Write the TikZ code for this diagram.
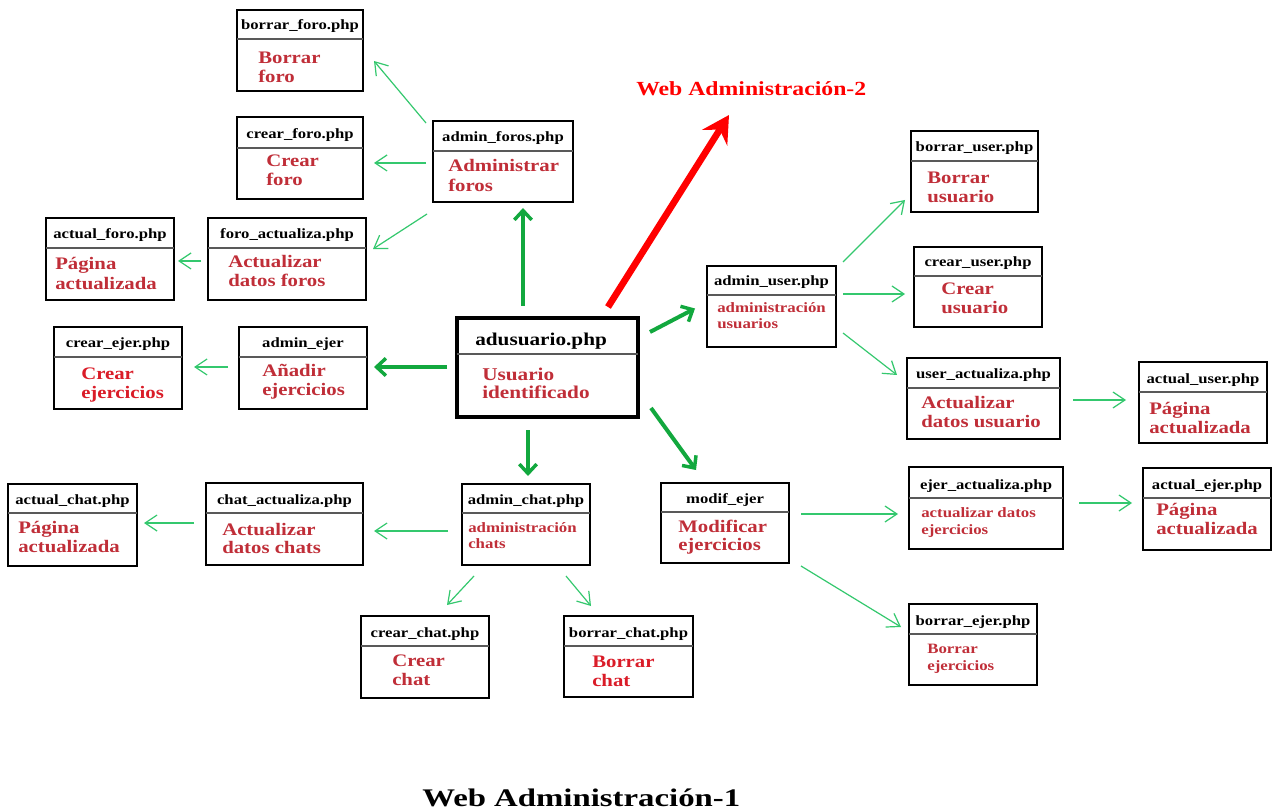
\documentclass[tikz,border=0pt]{standalone}
\usepackage{fontspec}
\setmainfont{Liberation Serif}
\usepackage{graphicx}
\usetikzlibrary{arrows.meta,fit}

\definecolor{bodyred}{RGB}{192,46,56}
\definecolor{brightred}{RGB}{218,28,40}
\definecolor{linkgreen}{RGB}{52,200,110}
\definecolor{maingreen}{RGB}{18,168,62}
\definecolor{titlered}{RGB}{255,0,0}

% horizontally widened lettering used throughout the boxes
\newcommand{\wide}[1]{\scalebox{1.18}[1]{#1}}

\tikzset{
  classframe/.style={draw=black, line width=2.2pt, inner sep=0pt, outer sep=0pt, fill=white},
  mainframe/.style={classframe, line width=3.6pt},
  divider/.style={draw=black!65, line width=0.8pt},
  hdr/.style={inner sep=0pt, text=black, font=\fontsize{10.6}{12}\selectfont\bfseries},
  mainhdr/.style={hdr, font=\fontsize{13.5}{16}\selectfont\bfseries},
  bodytxt/.style={inner sep=0pt, text=bodyred, font=\fontsize{13.2}{15}\selectfont\bfseries},
  brighttxt/.style={bodytxt, text=brightred},
  smalltxt/.style={inner sep=0pt, text=bodyred, font=\fontsize{10.7}{12}\selectfont\bfseries},
  maintxt/.style={bodytxt, font=\fontsize{13.5}{16}\selectfont\bfseries},
  link/.style={draw=linkgreen, line width=0.9pt,
    -{Straight Barb[length=9pt,width=12pt,line width=0.9pt]}},
  mainlink/.style={draw=maingreen, line width=3pt,
    -{Straight Barb[length=7pt,width=13pt,line width=2.6pt]}},
  nextlink/.style={draw=red, line width=5pt,
    -{Stealth[length=20pt,width=22pt,inset=7pt]}},
  title/.style={inner sep=0pt, font=\fontsize{15}{18}\selectfont\bfseries},
  bigtitle/.style={inner sep=0pt, font=\fontsize{19}{22}\selectfont\bfseries},
}

% #1 name, #2 left, #3 top, #4 right, #5 bottom, #6 divider y, #7 file name
\newcommand{\classbox}[7]{%
  \node[classframe, fit={(#2,#3)(#4,#5)}] (#1) {};
  \draw[divider] (#2,#6) -- (#4,#6);
  \node[hdr, anchor=base] (#1-h) at ({(#2+#4)/2},{#6-9}) {\wide{#7}};
}
% #1 name, #2 x, #3 baseline y, #4 style, #5 text
\newcommand{\bodyline}[5]{%
  \node[#4, anchor=base west] (#1) at (#2,#3) {\wide{#5}};
}

\begin{document}
\begin{tikzpicture}[x=0.75pt,y=-0.75pt]
\fill[white] (0,0) rectangle (1273,812);
\useasboundingbox (0,0) rectangle (1273,812);

% ---- central page ----
\node[mainframe, fit={(457,318)(638,417)}] (adusuario) {};
\draw[divider] (457,354) -- (638,354);
\node[mainhdr, anchor=base west] (adusuario-h) at (475,346) {\wide{adusuario.php}};
\bodyline{adusuario-b1}{482}{381}{maintxt}{Usuario}
\bodyline{adusuario-b2}{482}{399}{maintxt}{identificado}

% ---- forums ----
\classbox{borrarforo}{237}{10}{363}{91}{39}{borrar\_foro.php}
\bodyline{borrarforo-b1}{258}{64}{bodytxt}{Borrar}
\bodyline{borrarforo-b2}{258}{83}{bodytxt}{foro}

\classbox{crearforo}{237}{117}{363}{199}{148}{crear\_foro.php}
\bodyline{crearforo-b1}{266}{167}{bodytxt}{Crear}
\bodyline{crearforo-b2}{266}{186}{bodytxt}{foro}

\classbox{adminforos}{433}{121}{573}{202}{151}{admin\_foros.php}
\bodyline{adminforos-b1}{448}{172}{bodytxt}{Administrar}
\bodyline{adminforos-b2}{448}{192}{bodytxt}{foros}

\classbox{actualforo}{46}{218}{174}{300}{248}{actual\_foro.php}
\bodyline{actualforo-b1}{55}{270}{bodytxt}{Página}
\bodyline{actualforo-b2}{55}{290}{bodytxt}{actualizada}

\classbox{foroactualiza}{208}{218}{366}{300}{248}{foro\_actualiza.php}
\bodyline{foroactualiza-b1}{228}{268}{bodytxt}{Actualizar}
\bodyline{foroactualiza-b2}{228}{287}{bodytxt}{datos foros}

% ---- exercises ----
\classbox{crearejer}{54}{327}{182}{409}{357}{crear\_ejer.php}
\bodyline{crearejer-b1}{81}{380}{brighttxt}{Crear}
\bodyline{crearejer-b2}{81}{398}{brighttxt}{ejercicios}

\classbox{adminejer}{239}{327}{367}{409}{357}{admin\_ejer}
\bodyline{adminejer-b1}{262}{377}{bodytxt}{Añadir}
\bodyline{adminejer-b2}{262}{396}{bodytxt}{ejercicios}

\classbox{modifejer}{661}{483}{789}{563}{512}{modif\_ejer}
\bodyline{modifejer-b1}{678}{532}{bodytxt}{Modificar}
\bodyline{modifejer-b2}{678}{550}{bodytxt}{ejercicios}

\classbox{ejeractualiza}{909}{467}{1063}{549}{498}{ejer\_actualiza.php}
\bodyline{ejeractualiza-b1}{921}{517}{smalltxt}{actualizar datos}
\bodyline{ejeractualiza-b2}{921}{534}{smalltxt}{ejercicios}

\classbox{actualejer}{1143}{468}{1271}{550}{498}{actual\_ejer.php}
\bodyline{actualejer-b1}{1156}{515}{bodytxt}{Página}
\bodyline{actualejer-b2}{1156}{534}{bodytxt}{actualizada}

\classbox{borrarejer}{909}{604}{1037}{685}{634}{borrar\_ejer.php}
\bodyline{borrarejer-b1}{927}{653}{smalltxt}{Borrar}
\bodyline{borrarejer-b2}{927}{670}{smalltxt}{ejercicios}

% ---- users ----
\classbox{adminuser}{707}{266}{836}{347}{295}{admin\_user.php}
\bodyline{adminuser-b1}{717}{313}{smalltxt}{administración}
\bodyline{adminuser-b2}{717}{329}{smalltxt}{usuarios}

\classbox{borraruser}{911}{131}{1038}{212}{161}{borrar\_user.php}
\bodyline{borraruser-b1}{927}{184}{bodytxt}{Borrar}
\bodyline{borraruser-b2}{927}{203}{bodytxt}{usuario}

\classbox{crearuser}{914}{247}{1042}{327}{276}{crear\_user.php}
\bodyline{crearuser-b1}{941}{295}{bodytxt}{Crear}
\bodyline{crearuser-b2}{941}{314}{bodytxt}{usuario}

\classbox{useractualiza}{907}{358}{1060}{439}{388}{user\_actualiza.php}
\bodyline{useractualiza-b1}{921}{408}{bodytxt}{Actualizar}
\bodyline{useractualiza-b2}{921}{427}{bodytxt}{datos usuario}

\classbox{actualuser}{1139}{362}{1267}{443}{392}{actual\_user.php}
\bodyline{actualuser-b1}{1149}{414}{bodytxt}{Página}
\bodyline{actualuser-b2}{1149}{433}{bodytxt}{actualizada}

% ---- chats ----
\classbox{adminchat}{462}{484}{590}{565}{513}{admin\_chat.php}
\bodyline{adminchat-b1}{468}{532}{smalltxt}{administración}
\bodyline{adminchat-b2}{468}{548}{smalltxt}{chats}

\classbox{chatactualiza}{206}{483}{363}{565}{513}{chat\_actualiza.php}
\bodyline{chatactualiza-b1}{222}{535}{bodytxt}{Actualizar}
\bodyline{chatactualiza-b2}{222}{553}{bodytxt}{datos chats}

\classbox{actualchat}{8}{484}{137}{566}{513}{actual\_chat.php}
\bodyline{actualchat-b1}{18}{533}{bodytxt}{Página}
\bodyline{actualchat-b2}{18}{552}{bodytxt}{actualizada}

\classbox{crearchat}{361}{616}{489}{698}{646}{crear\_chat.php}
\bodyline{crearchat-b1}{392}{666}{bodytxt}{Crear}
\bodyline{crearchat-b2}{392}{685}{bodytxt}{chat}

\classbox{borrarchat}{564}{616}{693}{697}{646}{borrar\_chat.php}
\bodyline{borrarchat-b1}{592}{667}{brighttxt}{Borrar}
\bodyline{borrarchat-b2}{592}{686}{brighttxt}{chat}

% ---- titles ----
\node[title, text=titlered, anchor=base west] (webadm2) at (636,96)
  {\resizebox{172.5pt}{\height}{Web Administración-2}};
\node[bigtitle, text=black, anchor=base west] (webadm1) at (422,806)
  {\resizebox{238.5pt}{\height}{Web Administración-1}};

% ---- main connectors from the central page ----
\draw[mainlink] ([shift={(-24.5,-12)}]adusuario.north) -- ([shift={(20,6)}]adminforos.south);
\draw[mainlink] ([shift={(-10,-0.5)}]adusuario.west) -- ([shift={(7,-1)}]adminejer.east);
\draw[mainlink] ([shift={(-19.5,13)}]adusuario.south) -- ([shift={(2,-8)}]adminchat.north);
\draw[mainlink] ([shift={(12,14)}]adusuario.north east) -- ([shift={(-12,2)}]adminuser.west);
\draw[mainlink] ([shift={(13,-9)}]adusuario.south east) -- ([shift={(-29,-13)}]modifejer.north);
\draw[nextlink] ([shift={(-30,-11)}]adusuario.north east) -- ([shift={(93,19)}]webadm2.base west);

% ---- secondary connectors ----
\draw[link] ([shift={(-7,2)}]adminforos.north west) -- ([shift={(11,10.5)}]borrarforo.east);
\draw[link] ([shift={(-7,1.5)}]adminforos.west) -- ([shift={(11,5)}]crearforo.east);
\draw[link] ([shift={(-6,12)}]adminforos.south west) -- ([shift={(7,31)}]foroactualiza.north east);
\draw[link] ([shift={(-7,2)}]foroactualiza.west) -- ([shift={(4,2)}]actualforo.east);
\draw[link] ([shift={(-11,-1)}]adminejer.west) -- ([shift={(12,-1)}]crearejer.east);

\draw[link] ([shift={(7,-4)}]adminuser.north east) -- ([shift={(-6,28.5)}]borraruser.west);
\draw[link] ([shift={(7,-12.5)}]adminuser.east) -- ([shift={(-9,7)}]crearuser.west);
\draw[link] ([shift={(7,26.5)}]adminuser.east) -- ([shift={(-10,17)}]useractualiza.north west);
\draw[link] ([shift={(13,1.5)}]useractualiza.east) -- ([shift={(-13,-2.5)}]actualuser.west);

\draw[link] ([shift={(12,-9)}]modifejer.east) -- ([shift={(-11,6)}]ejeractualiza.west);
\draw[link] ([shift={(12,3)}]modifejer.south east) -- ([shift={(-8,-17.5)}]borrarejer.west);
\draw[link] ([shift={(16,-5)}]ejeractualiza.east) -- ([shift={(-11,-6)}]actualejer.west);

\draw[link] ([shift={(-14,6.5)}]adminchat.west) -- ([shift={(11,7)}]chatactualiza.east);
\draw[link] ([shift={(-12,-1)}]chatactualiza.west) -- ([shift={(7,-2)}]actualchat.east);
\draw[link] ([shift={(12,11)}]adminchat.south west) -- ([shift={(22,-11)}]crearchat.north);
\draw[link] ([shift={(-24,11)}]adminchat.south east) -- ([shift={(-37.5,-10)}]borrarchat.north);
\end{tikzpicture}
\end{document}
